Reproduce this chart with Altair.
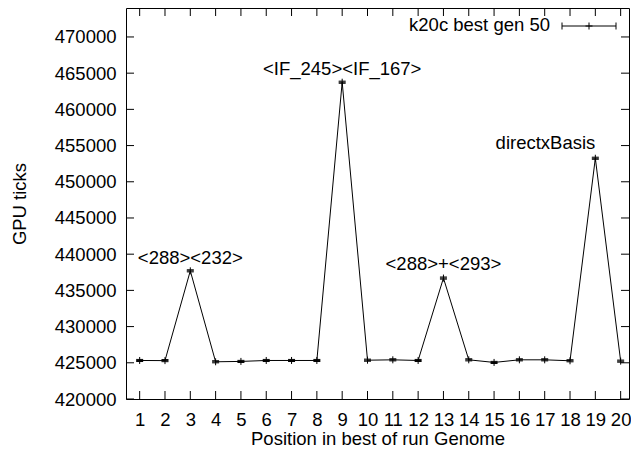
import altair as alt
import pandas as pd

# ---- data ----
positions = list(range(1, 21))
ticks = [425320, 425300, 437700, 425140, 425190, 425320, 425320, 425320, 463750, 425360,
         425410, 425320, 436700, 425410, 425050, 425410, 425410, 425280, 453250, 425230]

label_text = ["<288><232>", "<IF_245><IF_167>", "<288>+<293>"]
label_x = [3, 9, 13]
label_y = [439450, 465580, 438590]

right_label_text = ["directxBasis"]
right_label_x = [19]
right_label_y = [455310]

y_tick_values = [420000, 425000, 430000, 435000, 440000, 445000, 450000, 455000, 460000, 465000, 470000]
x_tick_values = list(range(1, 21))
legend_label = "k20c best gen 50"

W, H = 503, 391
FONT = "Liberation Sans"
FS = 18.5

df = pd.DataFrame({"pos": positions, "ticks": ticks})
lab = pd.DataFrame({"text": label_text, "x": label_x, "y": label_y})
rlab = pd.DataFrame({"text": right_label_text, "x": right_label_x, "y": right_label_y})
ytk = pd.DataFrame({"v": y_tick_values})
xtk = pd.DataFrame({"v": x_tick_values})
one = pd.DataFrame({"a": [0]})

xscale = alt.Scale(domain=[0.46, 20.33], nice=False, zero=False)
yscale = alt.Scale(domain=[420000, 474000], nice=False, zero=False)

xaxis = alt.Axis(values=x_tick_values, title="Position in best of run Genome",
                 format="d", titleY=45, titleBaseline="alphabetic", labelOverlap=False)
yaxis = alt.Axis(values=y_tick_values, title="GPU ticks", format="d",
                 titleX=-107, titleBaseline="middle", labelOverlap=False)


def X(field):
    return alt.X(field, type="quantitative", scale=xscale, axis=xaxis)


def Y(field):
    return alt.Y(field, type="quantitative", scale=yscale, axis=yaxis)


PLUS = "M-1,0H1M0,-1V1M-1,-0.3H1M-1,0.3H1"

line = alt.Chart(df).mark_line(color="black", strokeWidth=1).encode(x=X("pos"), y=Y("ticks"))
pts = alt.Chart(df).mark_point(shape=PLUS, size=49, color="black", filled=False,
                               strokeWidth=1, opacity=1).encode(x=X("pos"), y=Y("ticks"))

labels = alt.Chart(lab).mark_text(font=FONT, fontSize=FS, color="black", align="center",
                                  baseline="middle").encode(x=X("x"), y=Y("y"), text="text:N")
rlabels = alt.Chart(rlab).mark_text(font=FONT, fontSize=FS, color="black", align="right",
                                    baseline="middle").encode(x=X("x"), y=Y("y"), text="text:N")

TL = 8
yl = alt.Chart(ytk).mark_rule(color="black", strokeWidth=1).encode(
    y=Y("v"), x=alt.value(0), x2=alt.value(TL))
yr = alt.Chart(ytk).mark_rule(color="black", strokeWidth=1).encode(
    y=Y("v"), x=alt.value(W - TL), x2=alt.value(W))
xb = alt.Chart(xtk).mark_rule(color="black", strokeWidth=1).encode(
    x=X("v"), y=alt.value(H), y2=alt.value(H - TL))
xt = alt.Chart(xtk).mark_rule(color="black", strokeWidth=1).encode(
    x=X("v"), y=alt.value(0), y2=alt.value(TL))

# legend
leg_text = alt.Chart(one).mark_text(text=legend_label, font=FONT, fontSize=FS, color="black",
                                    align="right", baseline="middle").encode(
    x=alt.value(424), y=alt.value(17))
leg_line = alt.Chart(one).mark_rule(color="black", strokeWidth=1).encode(
    x=alt.value(436), x2=alt.value(490), y=alt.value(18))
leg_cap1 = alt.Chart(one).mark_rule(color="black", strokeWidth=1).encode(
    x=alt.value(436), y=alt.value(14.5), y2=alt.value(21.5))
leg_cap2 = alt.Chart(one).mark_rule(color="black", strokeWidth=1).encode(
    x=alt.value(490), y=alt.value(14.5), y2=alt.value(21.5))
leg_pt = alt.Chart(one).mark_point(shape="M-1,0H1M0,-1V1", size=49, color="black", filled=False,
                                   strokeWidth=1, opacity=1).encode(
    x=alt.value(463), y=alt.value(18))

chart = alt.layer(line, pts, labels, rlabels, yl, yr, xb, xt,
                  leg_text, leg_line, leg_cap1, leg_cap2, leg_pt).properties(
    width=W, height=H,
    autosize=alt.AutoSizeParams(type="none"),
    padding={"left": 118, "top": 0, "right": 2, "bottom": 50},
).configure_view(stroke="black", strokeWidth=1).configure_axis(
    grid=False, domain=False, ticks=False, tickSize=0, labelOverlap=False,
    labelFont=FONT, labelFontSize=FS, labelColor="black",
    titleFont=FONT, titleFontSize=FS, titleColor="black", titleFontWeight="normal",
).configure_axisY(labelPadding=10).configure_axisX(labelPadding=11)

chart.save("out.html", embed_options={"renderer": "svg", "actions": False})
